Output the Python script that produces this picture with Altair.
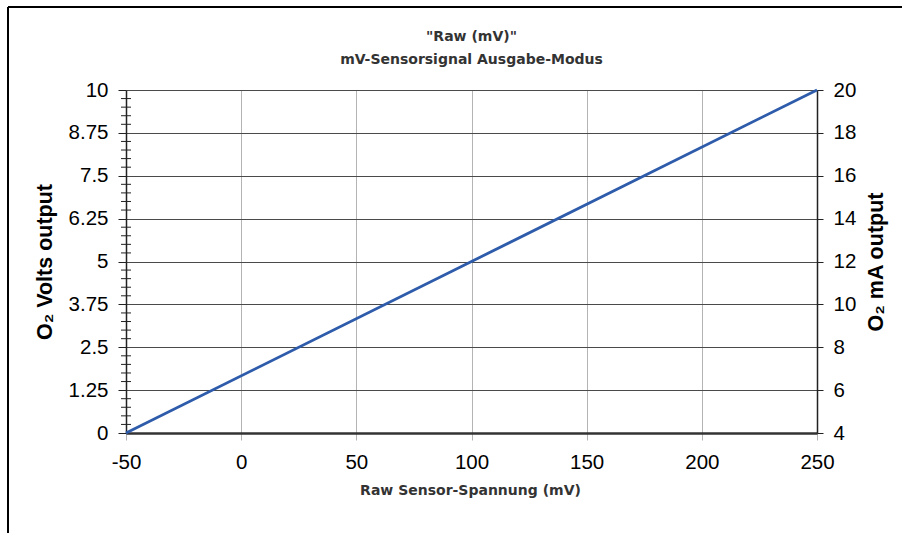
import altair as alt
import pandas as pd

# ---- data ----
mv = [-50, 250]          # Raw sensor voltage (mV)
volts = [0, 10]          # O2 Volts output
ma = [4, 20]             # O2 mA output
x_ticks = [-50, 0, 50, 100, 150, 200, 250]
left_ticks = [0, 1.25, 2.5, 3.75, 5, 6.25, 7.5, 8.75, 10]
right_ticks = [4, 6, 8, 10, 12, 14, 16, 18, 20]
minor_ticks = [0.25, 0.5, 0.75, 1.0, 1.5, 1.75, 2.0, 2.25, 2.75, 3.0, 3.25, 3.5,
               4.0, 4.25, 4.5, 4.75, 5.25, 5.5, 5.75, 6.0, 6.5, 6.75, 7.0, 7.25,
               7.75, 8.0, 8.25, 8.5, 9.0, 9.25, 9.5, 9.75]

W, H = 691, 343
LBL_FONT = "Liberation Sans"
LBL_SIZE = 20.5
YT_SIZE = 21.5

df = pd.DataFrame({"mv": mv, "volts": volts, "ma": ma})
minor_df = pd.DataFrame({"v": minor_ticks})

xscale = alt.Scale(domain=[-50, 250], nice=False, zero=False)
yscale = alt.Scale(domain=[0, 10], nice=False, zero=False)
yscale_r = alt.Scale(domain=[4, 20], nice=False, zero=False)

x_axis = alt.Axis(
    values=x_ticks, labelExpr="'' + datum.value", labelFlush=False,
    grid=True, gridColor="#b4b4b4", gridWidth=1,
    tickColor="#b4b4b4", tickSize=7,
    domainColor="#333333", domainWidth=2.5,
    labelFont=LBL_FONT, labelFontSize=LBL_SIZE, labelColor="#000000", labelPadding=12,
    title="Raw Sensor-Spannung (mV)", titleFont="DejaVu Sans", titleFontSize=14,
    titleFontWeight="bold", titleColor="#333333",
    titleX=344, titleY=57, titleBaseline="middle", titleAlign="center",
)

y_axis = alt.Axis(
    values=left_ticks, labelExpr="'' + datum.value", labelFlush=False,
    grid=True, gridColor="#4a4a4a", gridWidth=1,
    tickColor="#222222", tickSize=8,
    domainColor="#222222", domainWidth=1.5,
    labelFont=LBL_FONT, labelFontSize=LBL_SIZE, labelColor="#000000", labelPadding=10,
    title="O₂ Volts output", titleFont=LBL_FONT, titleFontSize=YT_SIZE,
    titleFontWeight="bold", titleColor="#000000",
    titleAngle=270, titleX=-81, titleY=H / 2, titleBaseline="middle", titleAlign="center",
)

y_axis_r = alt.Axis(
    orient="right", values=right_ticks, labelExpr="'' + datum.value", labelFlush=False,
    grid=False, tickColor="#222222", tickSize=6,
    domainColor="#222222", domainWidth=1.5,
    labelFont=LBL_FONT, labelFontSize=LBL_SIZE, labelColor="#000000", labelPadding=10,
    title="O₂ mA output", titleFont=LBL_FONT, titleFontSize=YT_SIZE,
    titleFontWeight="bold", titleColor="#000000",
    titleAngle=270, titleX=59, titleY=H / 2, titleBaseline="middle", titleAlign="center",
)

main = alt.Chart(df).mark_line(color="#2e5cab", strokeWidth=2.8).encode(
    x=alt.X("mv:Q", scale=xscale, axis=x_axis),
    y=alt.Y("volts:Q", scale=yscale, axis=y_axis),
)

right = alt.Chart(df).mark_line(opacity=0).encode(
    x=alt.X("mv:Q", scale=xscale, axis=x_axis),
    y=alt.Y("ma:Q", scale=yscale_r, axis=y_axis_r),
)

minor = alt.Chart(minor_df).mark_rule(color="#222222", strokeWidth=1).encode(
    y=alt.Y("v:Q", scale=yscale, axis=None),
    x=alt.value(-5), x2=alt.value(5),
)

frame_data = alt.Data(values=[{"k": 1}])
frame_top = alt.Chart(frame_data).mark_rule(color="#000000", strokeWidth=2).encode(
    x=alt.value(-118), x2=alt.value(W + 200), y=alt.value(-83),
)
frame_left = alt.Chart(frame_data).mark_rule(color="#000000", strokeWidth=2).encode(
    x=alt.value(-118), y=alt.value(-83), y2=alt.value(H + 200),
)

chart = alt.layer(main, right, minor, frame_top, frame_left).resolve_scale(
    y="independent"
).properties(
    width=W, height=H,
    title=alt.TitleParams(
        ['"Raw (mV)"', "mV-Sensorsignal Ausgabe-Modus"],
        font="DejaVu Sans", fontSize=14, fontWeight="bold", color="#333333",
        anchor="middle", lineHeight=23, offset=-61,
    ),
    autosize=alt.AutoSizeParams(type="none"),
    padding={"left": 126, "top": 90, "right": 85, "bottom": 100},
    background="white",
).configure_view(strokeWidth=0)

chart.save("out.html", embed_options={"renderer": "svg", "actions": False})
